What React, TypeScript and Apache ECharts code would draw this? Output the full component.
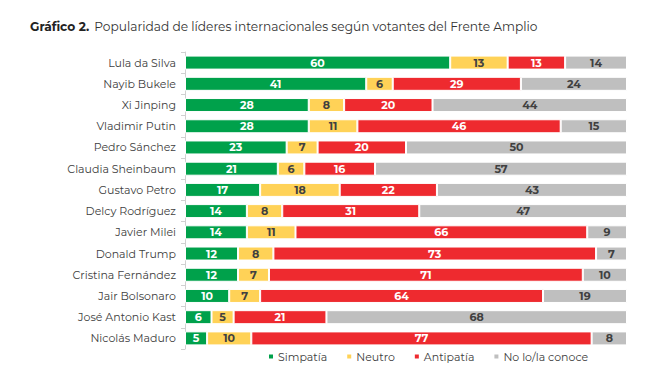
import React, { useEffect, useRef } from "react";
import * as echarts from "echarts";

const categories = [
  "Lula da Silva", "Nayib Bukele", "Xi Jinping", "Vladimir Putin", "Pedro Sánchez",
  "Claudia Sheinbaum", "Gustavo Petro", "Delcy Rodríguez", "Javier Milei", "Donald Trump",
  "Cristina Fernández", "Jair Bolsonaro", "José Antonio Kast", "Nicolás Maduro",
];
const simpatia = [60, 41, 28, 28, 23, 21, 17, 14, 14, 12, 12, 10, 6, 5];
const neutro = [13, 6, 8, 11, 7, 6, 18, 8, 11, 8, 7, 7, 5, 10];
const antipatia = [13, 29, 20, 46, 20, 16, 22, 31, 66, 73, 71, 64, 21, 77];
const noConoce = [14, 24, 44, 15, 50, 57, 43, 47, 9, 7, 10, 19, 68, 8];

const seriesDefs = [
  { name: "Simpatía", data: simpatia, color: "#00A14B", text: "#ffffff" },
  { name: "Neutro", data: neutro, color: "#FFD257", text: "#404040" },
  { name: "Antipatía", data: antipatia, color: "#EE2A2F", text: "#ffffff" },
  { name: "No lo/la conoce", data: noConoce, color: "#BFBFBF", text: "#404040" },
];

export default function App() {
  const ref = useRef<HTMLDivElement>(null);
  useEffect(() => {
    const chart = echarts.init(ref.current!, null, { renderer: "svg" });
    const font = "Montserrat, 'Open Sans', 'Noto Sans', sans-serif";
    chart.setOption({
      animation: false,
      textStyle: { fontFamily: font },
      title: {
        text: "{b|Gráfico 2.} {r|Popularidad de líderes internacionales según votantes del Frente Amplio}",
        left: 25,
        top: 12,
        textStyle: {
          rich: {
            b: { fontWeight: "bold", fontSize: 12.2, color: "#222", fontFamily: font },
            r: { fontWeight: "normal", fontSize: 12.2, color: "#333", fontFamily: font },
          },
        },
      },
      legend: {
        bottom: 14,
        left: 262,
        itemWidth: 6,
        itemHeight: 6,
        itemGap: 18,
        icon: "rect",
        textStyle: { fontSize: 11, color: "#404040", fontFamily: font, padding: [0, 0, 0, -1] },
        data: seriesDefs.map((s) => s.name),
      },
      grid: { left: 185, right: 23, top: 52, bottom: 32, containLabel: false },
      xAxis: { type: "value", min: 0, max: 100, show: false },
      yAxis: {
        type: "category",
        data: categories,
        inverse: true,
        axisLine: { show: true, lineStyle: { color: "#d0d0d0" } },
        axisTick: { show: true, length: 4, lineStyle: { color: "#d0d0d0" } },
        axisLabel: { color: "#404040", fontSize: 11, margin: 9, fontFamily: font },
      },
      series: seriesDefs.map((s) => ({
        name: s.name,
        type: "bar",
        stack: "total",
        barWidth: 14,
        data: s.data,
        itemStyle: { color: s.color, borderColor: "#ffffff", borderWidth: 1 },
        label: {
          show: true,
          position: "inside",
          color: s.text,
          fontWeight: "bold",
          fontSize: 11,
          fontFamily: font,
        },
      })),
    });
    return () => chart.dispose();
  }, []);
  return <div ref={ref} style={{ width: 650, height: 381, margin: -8 }} />;
}
